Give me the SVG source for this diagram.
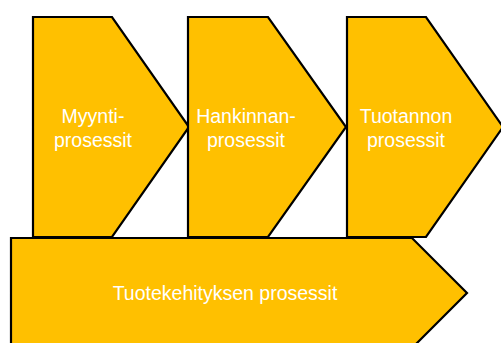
<svg xmlns="http://www.w3.org/2000/svg" width="501" height="343" viewBox="0 0 501 343">
<style>
.shape{fill:#FFC000;stroke:#000;stroke-width:2.2;stroke-linejoin:miter}
.lbl{font-family:"Liberation Sans",Arial,sans-serif;font-size:19.5px;fill:#fff;text-anchor:middle}
</style>
<rect width="501" height="343" fill="#fff"/>
<g id="myynti">
<polygon class="shape" points="33,17 112,17 189,127 112,237 33,237"/>
<text class="lbl" x="93" y="123">Myynti-</text>
<text class="lbl" x="93" y="147">prosessit</text>
</g>
<g id="hankinnan">
<polygon class="shape" points="188,17 268,17 346,127 268,237 188,237"/>
<text class="lbl" x="246" y="123">Hankinnan-</text>
<text class="lbl" x="246" y="147">prosessit</text>
</g>
<g id="tuotannon">
<polygon class="shape" points="347,17 426,17 503,127 426,237 347,237"/>
<text class="lbl" x="406" y="123">Tuotannon</text>
<text class="lbl" x="406" y="147">prosessit</text>
</g>
<g id="tuotekehitys">
<polygon class="shape" points="11,238 412,238 467,293 412,348 11,348"/>
<text class="lbl" x="225" y="300">Tuotekehityksen prosessit</text>
</g>
<g id="connectors"></g>
</svg>
